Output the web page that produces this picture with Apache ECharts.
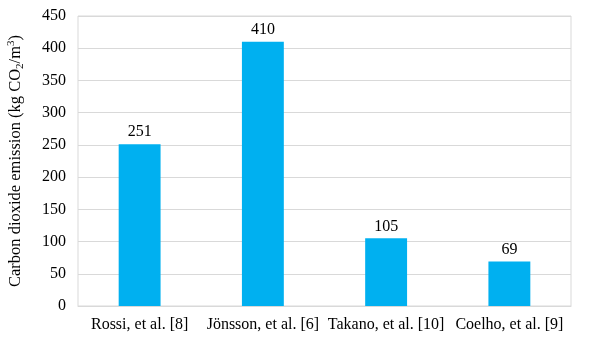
<!DOCTYPE html>
<html><head><meta charset="utf-8">
<script src="https://cdn.jsdelivr.net/npm/echarts@6/dist/echarts.min.js"></script>
<style>html,body{margin:0;padding:0;background:#fff}#c{width:611px;height:347px}</style>
</head><body><div id="c"></div>
<script>
const categories = ["Rossi, et al. [8]", "Jönsson, et al. [6]", "Takano, et al. [10]", "Coelho, et al. [9]"];
const values = [251, 410, 105, 69];
const yMin = 0, yMax = 450, yInterval = 50;
const FONT = '"Liberation Serif", "Times New Roman", serif';

const chart = echarts.init(document.getElementById('c'), null, {renderer: 'canvas'});
chart.setOption({
  animation: false,
  backgroundColor: '#fff',
  grid: {left: 78, right: 40, top: 16, bottom: 41, show: true, borderColor: '#D9D9D9', borderWidth: 1,
         containLabel: false, outerBoundsMode: 'none'},
  xAxis: {
    type: 'category', data: categories,
    axisLine: {show: true, lineStyle: {color: '#D9D9D9'}},
    axisTick: {show: false},
    axisLabel: {color: '#000', fontFamily: FONT, fontSize: 16, margin: 11, interval: 0}
  },
  yAxis: {
    type: 'value', min: yMin, max: yMax, interval: yInterval,
    axisLine: {show: false}, axisTick: {show: false},
    splitLine: {lineStyle: {color: '#D9D9D9', width: 1}},
    axisLabel: {color: '#000', fontFamily: FONT, fontSize: 16, margin: 12},
    name: '{a|Carbon dioxide emission (kg CO}{sub|2}{a|/m}{sup|3}{a|)}',
    nameLocation: 'middle', nameGap: 52, nameRotate: 90,
    nameTextStyle: {
      color: '#000', fontFamily: FONT, fontSize: 16.5,
      rich: {
        a: {fontFamily: FONT, fontSize: 16.5, color: '#000', lineHeight: 20, verticalAlign: 'middle'},
        sub: {fontFamily: FONT, fontSize: 11, color: '#000', lineHeight: 20, verticalAlign: 'bottom', padding: [7, 0, 0, 0]},
        sup: {fontFamily: FONT, fontSize: 11, color: '#000', lineHeight: 20, verticalAlign: 'top', padding: [0, 0, 7, 0]}
      }
    }
  },
  series: [{
    type: 'bar', data: values, barWidth: '34%',
    itemStyle: {color: '#00B0F0'},
    label: {show: true, position: 'top', color: '#000', fontFamily: FONT, fontSize: 16, distance: 4}
  }]
});
</script></body></html>
